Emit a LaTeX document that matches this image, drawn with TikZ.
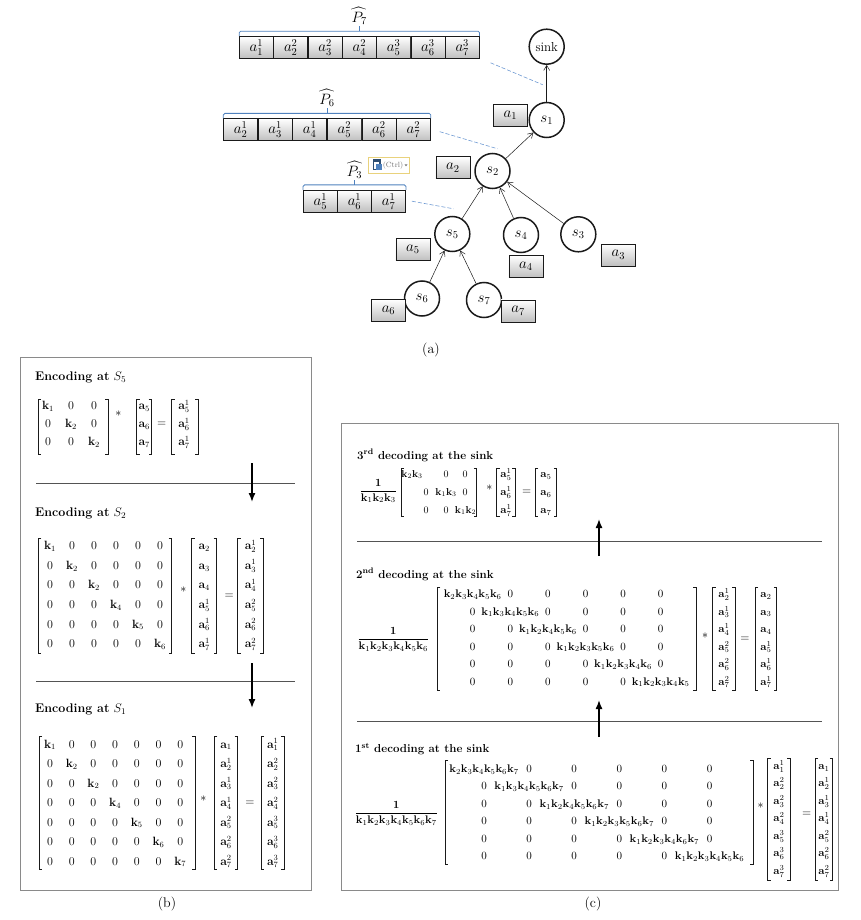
\RequirePackage{fix-cm}
\documentclass[tikz,border=0pt]{standalone}
\usepackage{amsmath,amssymb}
\usepackage{tikz}
\usepackage{xcolor}
\usetikzlibrary{arrows.meta,calc}
\definecolor{ink}{HTML}{1A1A1A}
\definecolor{frame}{HTML}{8A8A8A}
\definecolor{brace}{HTML}{4F81BD}
\definecolor{dashblue}{HTML}{6F9AD3}
\definecolor{ctrl}{HTML}{E9D27C}
\newcommand{\bk}[1]{\mathbf{k}_{#1}}
\newcommand{\ba}[1]{\mathbf{a}_{#1}}
\newcommand{\brackets}[1]{%
  \draw[brk] ([xshift=3pt]#1.north west) -- (#1.north west) -- (#1.south west) -- ([xshift=3pt]#1.south west);
  \draw[brk] ([xshift=-3pt]#1.north east) -- (#1.north east) -- (#1.south east) -- ([xshift=-3pt]#1.south east);}
\tikzset{
  sensor/.style={circle, draw=ink, line width=1.5pt, minimum size=35pt, inner sep=0pt,
                 font=\fontsize{15}{17}\selectfont},
  pkt/.style={draw=ink, line width=0.6pt, top color=white, bottom color=black!25,
              minimum width=34pt, minimum height=22pt, inner sep=0pt, font=\fontsize{15}{17}\selectfont},
  link/.style={-{Straight Barb[length=5pt,width=6pt]}, line width=0.5pt, draw=ink},
  tolink/.style={draw=dashblue, dash pattern=on 4pt off 2pt, line width=0.6pt},
  grp/.style={draw=brace, line width=0.8pt, rounded corners=1.5pt},
  ent/.style={anchor=base, inner sep=0pt, font=\fontsize{12}{14}\selectfont},
  entc/.style={anchor=base, inner sep=0pt, font=\fontsize{11}{13}\selectfont},
  op/.style={inner sep=0pt, font=\fontsize{12}{14}\selectfont},
  bbox/.style={rectangle, inner sep=0pt, outer sep=0pt},
  brk/.style={draw=ink, line width=0.6pt},
  panel/.style={draw=frame, line width=0.8pt, inner sep=0pt},
  rule/.style={draw=ink!75, line width=0.8pt},
  flow/.style={-{Latex[length=9pt,width=7pt]}, line width=1.4pt, draw=black},
  headb/.style={anchor=base west, inner sep=0pt, font=\fontsize{12.5}{15}\selectfont},
  headc/.style={anchor=base west, inner sep=0pt, font=\fontsize{11.5}{14}\selectfont},
  figlabel/.style={inner sep=0pt, font=\fontsize{14}{16}\selectfont}
}
\begin{document}
\begin{tikzpicture}[x=1pt,y=-1pt]
  \useasboundingbox (0,0) rectangle (861,920);

  % (a) the gathering tree
  \node[sensor, font=\fontsize{13}{15}\selectfont] (sink) at (546.7,46.7) {sink};
  \node[sensor] (s1) at (546.7,120) {$s_1$};
  \node[sensor] (s2) at (492.5,171) {$s_2$};
  \node[sensor] (s5) at (452.3,234) {$s_5$};
  \node[sensor] (s4) at (521,235) {$s_4$};
  \node[sensor] (s3) at (578.3,234.3) {$s_3$};
  \node[sensor] (s6) at (422,298.5) {$s_6$};
  \node[sensor] (s7) at (484,300) {$s_7$};
  \foreach \a/\b in {s1/sink,s2/s1,s5/s2,s4/s2,s3/s2,s6/s5,s7/s5}
    \draw[link] (\a) -- (\b);

  \foreach \n/\x/\y in {1/510.3/115.5,2/452.8/167.8,3/618.3/254.8,4/525.8/266.5,5/412.8/249.3,6/388.5/310.5,7/518.2/310.8}
    \node[pkt] (a\n) at (\x,\y) {$a_\n$};

  % packets in flight
  \foreach \i/\t in {1/{a_1^1},2/{a_2^2},3/{a_3^2},4/{a_4^2},5/{a_5^3},6/{a_6^3},7/{a_7^3}}
    \node[pkt] (p7-\i) at ({239.3+(\i-0.5)*34.3},47.5) {$\t$};
  \foreach \i/\t in {1/{a_2^1},2/{a_3^1},3/{a_4^1},4/{a_5^2},5/{a_6^2},6/{a_7^2}}
    \node[pkt] (p6-\i) at ({223.3+(\i-0.5)*34.57},129.7) {$\t$};
  \foreach \i/\t in {1/{a_5^1},2/{a_6^1},3/{a_7^1}}
    \node[pkt] (p3-\i) at ({303.3+(\i-0.5)*34.13},201.2) {$\t$};

  \foreach \p/\q in {p7/7,p6/6,p3/3}{
    \draw[grp] (\p-1.north west) -- ++(0,-5) -- ($(\p-\q.north east)+(0,-5)$) -- (\p-\q.north east);
    \draw[grp] ($(\p-1.north west)!0.5!(\p-\q.north east)+(0,-5)$) -- ++(0,-5)
      node[anchor=south, inner sep=1pt, font=\fontsize{15}{17}\selectfont] (hat\q) {$\widehat{P_\q}$};
  }

  \node[draw=ctrl, fill=white, line width=0.8pt, minimum width=41pt, minimum height=16pt, inner sep=0pt] (ctrl) at (388.8,165.3) {};
  \fill[brace!60!black] (372.5,159.5) rectangle (380.5,170.5);
  \fill[white] (374,162) rectangle (379,169);
  \fill[brace] (376,164) rectangle (381.5,170);
  \node[inner sep=0pt, text=black!55, font=\fontsize{7.5}{9}\selectfont] (ctrltxt) at (393,165.3) {(Ctrl)};
  \fill[black!55] (404.5,164.3) -- (407.5,164.3) -- (406,166.3) -- cycle;

  \draw[tolink] ([xshift=11pt,yshift=-4pt]p7-7.south east) -- ([xshift=-4pt,yshift=17pt]s1.north);
  \draw[tolink] ([xshift=9pt,yshift=-2pt]p6-6.east) -- ([xshift=5pt,yshift=4pt]s2.north);
  \draw[tolink] ([xshift=6pt]p3-3.east) -- ([xshift=1pt,yshift=7pt]s5.north);

  \node[figlabel] (capa) at (431,350) {(a)};

  % (b) encoding along the path
  \node[panel, minimum width=291pt, minimum height=533pt] (pb) at (165.5,623.5) {};

  \node[headb] (t5) at (35,380.5) {\textbf{Encoding at} $S_5$};
  \node[bbox, minimum width=70pt, minimum height=55pt] (m5) at (73,426.5) {};
  \brackets{m5}
  \foreach \r/\k in {1/1,2/2,3/2}
    \foreach \c in {1,2,3}{
      \pgfmathsetmacro{\xx}{48+(\c-1)*23}
      \pgfmathsetmacro{\yy}{409.5+(\r-1)*18}
      \ifnum\r=\c\relax
        \node[ent] (m5-\r-\c) at (\xx,\yy) {$\bk{\k}$};
      \else
        \node[ent] (m5-\r-\c) at (\xx,\yy) {$0$};
      \fi
    }
  \node[op] (st5) at (118.3,414) {$*$};
  \node[bbox, minimum width=15pt, minimum height=55pt] (v5) at (144.2,426.5) {};
  \brackets{v5}
  \foreach \r/\t in {1/\ba{5},2/\ba{6},3/\ba{7}}
    \node[ent] (v5-\r) at (144.2,{409.5+(\r-1)*18}) {$\t$};
  \node[op] (eq5) at (161.7,424) {$=$};
  \node[bbox, minimum width=26.7pt, minimum height=55pt] (r5) at (185,426.5) {};
  \brackets{r5}
  \foreach \r/\t in {1/\ba{5}^1,2/\ba{6}^1,3/\ba{7}^1}
    \node[ent] (r5-\r) at (184,{409.5+(\r-1)*18}) {$\t$};

  \draw[rule] (36,483) -- (295,483);
  \coordinate (f1a) at (252,463);
  \coordinate (f1b) at (252,502);
  \draw[flow] (f1a) -- (f1b);

  \node[headb] (t2) at (35,516.5) {\textbf{Encoding at} $S_2$};
  \node[bbox, minimum width=133.4pt, minimum height=115pt] (m2) at (105,595.8) {};
  \brackets{m2}
  \foreach \r/\k in {1/1,2/2,3/2,4/4,5/5,6/6}
    \foreach \c in {1,...,6}{
      \pgfmathsetmacro{\xx}{50+(\c-1)*22}
      \pgfmathsetmacro{\yy}{549.6+(\r-1)*19.6}
      \ifnum\r=\c\relax
        \node[ent] (m2-\r-\c) at (\xx,\yy) {$\bk{\k}$};
      \else
        \node[ent] (m2-\r-\c) at (\xx,\yy) {$0$};
      \fi
    }
  \node[op] (st2) at (183.3,590) {$*$};
  \node[bbox, minimum width=25pt, minimum height=115pt] (v2) at (204.2,595.8) {};
  \brackets{v2}
  \foreach \r/\t in {1/\ba{2},2/\ba{3},3/\ba{4},4/\ba{5}^1,5/\ba{6}^1,6/\ba{7}^1}
    \node[ent] (v2-\r) at (204.2,{549.6+(\r-1)*19.6}) {$\t$};
  \node[op] (eq2) at (229.3,596) {$=$};
  \node[bbox, minimum width=25.6pt, minimum height=115pt] (r2) at (250.5,595.8) {};
  \brackets{r2}
  \foreach \r/\t in {1/\ba{2}^1,2/\ba{3}^1,3/\ba{4}^1,4/\ba{5}^2,5/\ba{6}^2,6/\ba{7}^2}
    \node[ent] (r2-\r) at (250.5,{549.6+(\r-1)*19.6}) {$\t$};

  \draw[rule] (36,681.5) -- (295,681.5);
  \coordinate (f2a) at (252,663);
  \coordinate (f2b) at (252,708);
  \draw[flow] (f2a) -- (f2b);

  \node[headb] (t1) at (35,712.5) {\textbf{Encoding at} $S_1$};
  \node[bbox, minimum width=156pt, minimum height=132.6pt] (m1) at (117,803) {};
  \brackets{m1}
  \foreach \r/\k in {1/1,2/2,3/2,4/4,5/5,6/6,7/7}
    \foreach \c in {1,...,7}{
      \pgfmathsetmacro{\xx}{50+(\c-1)*21.7}
      \pgfmathsetmacro{\yy}{748+(\r-1)*19.5}
      \ifnum\r=\c\relax
        \node[ent] (m1-\r-\c) at (\xx,\yy) {$\bk{\k}$};
      \else
        \node[ent] (m1-\r-\c) at (\xx,\yy) {$0$};
      \fi
    }
  \node[op] (st1) at (203.3,798.3) {$*$};
  \node[bbox, minimum width=23.4pt, minimum height=132.6pt] (v1) at (226,803) {};
  \brackets{v1}
  \foreach \r/\t in {1/\ba{1},2/\ba{2}^1,3/\ba{3}^1,4/\ba{4}^1,5/\ba{5}^2,6/\ba{6}^2,7/\ba{7}^2}
    \node[ent] (v1-\r) at (226,{748+(\r-1)*19.5}) {$\t$};
  \node[op] (eq1) at (250,803.3) {$=$};
  \node[bbox, minimum width=23.3pt, minimum height=132.6pt] (r1) at (272.7,803) {};
  \brackets{r1}
  \foreach \r/\t in {1/\ba{1}^1,2/\ba{2}^2,3/\ba{3}^2,4/\ba{4}^2,5/\ba{5}^3,6/\ba{6}^3,7/\ba{7}^3}
    \node[ent] (r1-\r) at (272.7,{748+(\r-1)*19.5}) {$\t$};

  \node[figlabel] (capb) at (167,904) {(b)};

  % (c) decoding at the sink
  \node[panel, minimum width=497pt, minimum height=467pt] (pc) at (589.5,656.5) {};

  \node[headc] (d3) at (357,459) {\textbf{3\textsuperscript{rd} decoding at the sink}};
  \node[op, font=\fontsize{11}{13}\selectfont] (fr3) at (378.3,491) {$\dfrac{\mathbf{1}}{\bk1\bk2\bk3}$};
  \node[bbox, minimum width=75.7pt, minimum height=48.7pt] (m3c) at (438.9,492.4) {};
  \brackets{m3c}
  \foreach \r/\c/\x/\t in {1/1/412/\bk2\bk3,1/2/446/0,1/3/465/0,
                           2/1/426/0,2/2/446/\bk1\bk3,2/3/465/0,
                           3/1/426/0,3/2/446/0,3/3/465.5/\bk1\bk2}
    \node[entc, font=\fontsize{10}{12}\selectfont] (m3c-\r-\c) at (\x,{477.4+(\r-1)*18}) {$\t$};
  \node[op] (st3c) at (489.3,488) {$*$};
  \node[bbox, minimum width=18.3pt, minimum height=48.7pt] (v3c) at (505.9,492.4) {};
  \brackets{v3c}
  \foreach \r/\t in {1/\ba{5}^1,2/\ba{6}^1,3/\ba{7}^1}
    \node[entc] (v3c-\r) at (505.9,{477.4+(\r-1)*18}) {$\t$};
  \node[op] (eq3c) at (526.7,492.4) {$=$};
  \node[bbox, minimum width=21.7pt, minimum height=48.7pt] (r3c) at (545.9,492.4) {};
  \brackets{r3c}
  \foreach \r/\t in {1/\ba{5},2/\ba{6},3/\ba{7}}
    \node[entc] (r3c-\r) at (545.9,{477.4+(\r-1)*18}) {$\t$};

  \draw[rule] (357,541.5) -- (822,541.5);
  \coordinate (u1a) at (599,556);
  \coordinate (u1b) at (599,519);
  \draw[flow] (u1a) -- (u1b);

  \node[headc] (d2) at (356,578) {\textbf{2\textsuperscript{nd} decoding at the sink}};
  \node[op, font=\fontsize{11}{13}\selectfont] (fr2) at (393.3,639.5) {$\dfrac{\mathbf{1}}{\bk1\bk2\bk3\bk4\bk5\bk6}$};
  \node[bbox, minimum width=258.7pt, minimum height=102.7pt] (m2c) at (566.7,638.7) {};
  \brackets{m2c}
  \foreach \r/\d in {1/{\bk2\bk3\bk4\bk5\bk6},2/{\bk1\bk3\bk4\bk5\bk6},3/{\bk1\bk2\bk4\bk5\bk6},
                     4/{\bk1\bk2\bk3\bk5\bk6},5/{\bk1\bk2\bk3\bk4\bk6},6/{\bk1\bk2\bk3\bk4\bk5}}
    \foreach \c in {1,...,6}{
      \pgfmathsetmacro{\xx}{472.7+(\c-1)*37.6}
      \pgfmathsetmacro{\yy}{597.7+(\r-1)*17.5}
      \ifnum\r=\c\relax
        \node[entc] (m2c-\r-\c) at (\xx,\yy) {$\d$};
      \else
        \node[entc] (m2c-\r-\c) at (\xx,\yy) {$0$};
      \fi
    }
  \node[op] (st2c) at (705,636) {$*$};
  \node[bbox, minimum width=22.3pt, minimum height=102.7pt] (v2c) at (723.9,638.7) {};
  \brackets{v2c}
  \foreach \r/\t in {1/\ba{2}^1,2/\ba{3}^1,3/\ba{4}^1,4/\ba{5}^2,5/\ba{6}^2,6/\ba{7}^2}
    \node[entc] (v2c-\r) at (723.9,{597.7+(\r-1)*17.5}) {$\t$};
  \node[op] (eq2c) at (745,639) {$=$};
  \node[bbox, minimum width=21.7pt, minimum height=102.7pt] (r2c) at (765.9,638.7) {};
  \brackets{r2c}
  \foreach \r/\t in {1/\ba{2},2/\ba{3},3/\ba{4},4/\ba{5}^1,5/\ba{6}^1,6/\ba{7}^1}
    \node[entc] (r2c-\r) at (765.9,{597.7+(\r-1)*17.5}) {$\t$};

  \draw[rule] (357,721.5) -- (822,721.5);
  \coordinate (u2a) at (599,737);
  \coordinate (u2b) at (599,700);
  \draw[flow] (u2a) -- (u2b);

  \node[headc] (d1) at (355,752.5) {\textbf{1\textsuperscript{st} decoding at the sink}};
  \node[op, font=\fontsize{11}{13}\selectfont] (fr1) at (396.3,813.5) {$\dfrac{\mathbf{1}}{\bk1\bk2\bk3\bk4\bk5\bk6\bk7}$};
  \node[bbox, minimum width=308.3pt, minimum height=104pt] (m1c) at (599.2,812) {};
  \brackets{m1c}
  \foreach \r/\d in {1/{\bk2\bk3\bk4\bk5\bk6\bk7},2/{\bk1\bk3\bk4\bk5\bk6\bk7},3/{\bk1\bk2\bk4\bk5\bk6\bk7},
                     4/{\bk1\bk2\bk3\bk5\bk6\bk7},5/{\bk1\bk2\bk3\bk4\bk6\bk7},6/{\bk1\bk2\bk3\bk4\bk5\bk6}}
    \foreach \c in {1,...,6}{
      \pgfmathsetmacro{\xx}{484+(\c-1)*45.1}
      \pgfmathsetmacro{\yy}{772.4+(\r-1)*17.5}
      \ifnum\r=\c\relax
        \node[entc] (m1c-\r-\c) at (\xx,\yy) {$\d$};
      \else
        \node[entc] (m1c-\r-\c) at (\xx,\yy) {$0$};
      \fi
    }
  \node[op] (st1c) at (760.7,806) {$*$};
  \node[bbox, minimum width=22.3pt, minimum height=122pt] (v1c) at (778.9,819) {};
  \brackets{v1c}
  \foreach \r/\t in {1/\ba{1}^1,2/\ba{2}^2,3/\ba{3}^2,4/\ba{4}^2,5/\ba{5}^3,6/\ba{6}^3,7/\ba{7}^3}
    \node[entc] (v1c-\r) at (778.9,{769.4+(\r-1)*17.5}) {$\t$};
  \node[op] (eq1c) at (806.7,814) {$=$};
  \node[bbox, minimum width=17.7pt, minimum height=122pt] (r1c) at (823.9,819) {};
  \brackets{r1c}
  \foreach \r/\t in {1/\ba{1},2/\ba{2}^1,3/\ba{3}^1,4/\ba{4}^1,5/\ba{5}^2,6/\ba{6}^2,7/\ba{7}^2}
    \node[entc] (r1c-\r) at (823.9,{769.4+(\r-1)*17.5}) {$\t$};

  \node[figlabel] (capc) at (593,904) {(c)};
\end{tikzpicture}
\end{document}
